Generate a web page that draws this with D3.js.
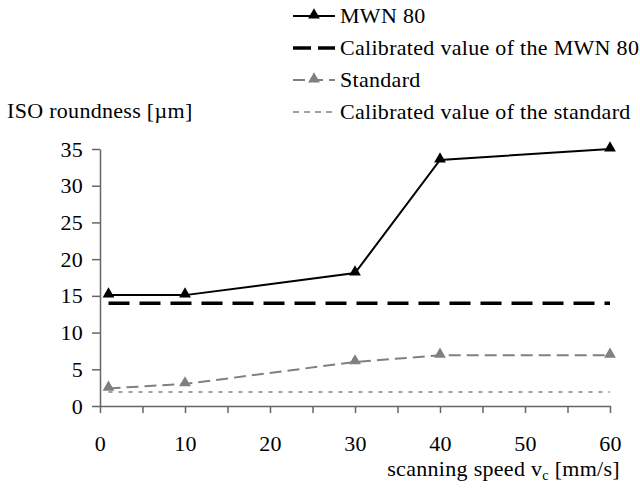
<!DOCTYPE html>
<html>
<head>
    <meta charset="UTF-8">
    <script src="https://cdn.jsdelivr.net/npm/d3@7"></script>
    <style>
        body { margin: 0; background: #fff; }
        .axis path, .axis line { stroke: #666; stroke-width: 1.5px; }
    </style>
</head>
<body>
<svg width="640" height="497"></svg>
<script>
    // values
    var speeds = [1, 10, 30, 40, 60];
    var mwn80 = [15.1, 15.1, 18.1, 33.5, 35.0];
    var standard = [2.4, 3.0, 6.0, 6.9, 6.9];
    var calMwn80 = 14.0;
    var calStandard = 1.9;
    var xTicks = [0, 10, 20, 30, 40, 50, 60];
    var xMinor = [5, 15, 25, 35, 45, 55];
    var yTicks = [0, 5, 10, 15, 20, 25, 30, 35];

    var FONT = "'Liberation Serif', 'Times New Roman', serif";
    var FS = "22px";

    var svg = d3.select("svg");

    // the original is a bit wider than plain Times, a little spacing makes up for it
    function serif(sel) {
        return sel.style("font-family", FONT).style("font-size", FS).style("letter-spacing", "0.3px");
    }

    var x = d3.scaleLinear().domain([0, 60]).range([100, 610]);
    var y = d3.scaleLinear().domain([0, 35]).range([406, 149]);

    // axes
    svg.append("g")
        .attr("class", "axis")
        .attr("transform", "translate(0,406)")
        .call(d3.axisBottom(x).tickValues(xTicks.concat(xMinor)).tickSize(7).tickSizeOuter(0)
            .tickFormat(function(d) { return xTicks.indexOf(d) >= 0 ? d : ""; }))
        .call(function(g) {
            g.attr("font-family", null).attr("font-size", null);
            serif(g.selectAll("text").attr("y", 37).attr("dy", "0.35em").attr("fill", "#000"));
        });

    svg.append("g")
        .attr("class", "axis")
        .attr("transform", "translate(100,0)")
        .call(d3.axisLeft(y).tickValues(yTicks).tickSize(8).tickSizeOuter(0))
        .call(function(g) {
            g.attr("font-family", null).attr("font-size", null);
            serif(g.selectAll("text").attr("x", -17).attr("fill", "#000"));
        });

    var line = d3.line()
        .x(function(d) { return x(d[0]); })
        .y(function(d) { return y(d[1]); });

    var tri = d3.symbol().type(d3.symbolTriangle).size(60);

    // calibrated values
    svg.append("path")
        .attr("d", line([[speeds[0], calMwn80], [60, calMwn80]]))
        .attr("fill", "none").attr("stroke", "#000")
        .attr("stroke-width", 3.5).attr("stroke-dasharray", "21,10");

    svg.append("path")
        .attr("d", line([[speeds[0], calStandard], [60, calStandard]]))
        .attr("fill", "none").attr("stroke", "#808080")
        .attr("stroke-width", 1.5).attr("stroke-dasharray", "4,6");

    // series
    var series = [
        { values: mwn80, color: "#000", dash: null, width: 2 },
        { values: standard, color: "#808080", dash: "12,6", width: 2 }
    ];

    series.forEach(function(s) {
        var pts = speeds.map(function(v, i) { return [v, s.values[i]]; });
        svg.append("path")
            .attr("d", line(pts))
            .attr("fill", "none")
            .attr("stroke", s.color)
            .attr("stroke-width", s.width)
            .attr("stroke-dasharray", s.dash);
        svg.append("g").selectAll("path")
            .data(pts)
            .enter().append("path")
            .attr("d", tri)
            .attr("fill", s.color)
            .attr("transform", function(d) { return "translate(" + x(d[0]) + "," + (y(d[1]) - 1) + ")"; });
    });

    // legend
    var legend = [
        { name: "MWN 80", color: "#000", dash: null, width: 2, marker: true },
        { name: "Calibrated value of the MWN 80", color: "#000", dash: "18,7", width: 3.5, marker: false },
        { name: "Standard", color: "#808080", dash: "12,6", width: 2, marker: true },
        { name: "Calibrated value of the standard", color: "#808080", dash: "6,5", width: 1.5, marker: false }
    ];

    var lg = svg.append("g")
        .selectAll("g")
        .data(legend)
        .enter().append("g")
        .attr("transform", function(d, i) { return "translate(293," + (16 + i * 32) + ")"; });

    lg.append("line")
        .attr("x1", 0).attr("x2", 42)
        .attr("stroke", function(d) { return d.color; })
        .attr("stroke-width", function(d) { return d.width; })
        .attr("stroke-dasharray", function(d) { return d.dash; });

    lg.filter(function(d) { return d.marker; })
        .append("path")
        .attr("d", tri)
        .attr("fill", function(d) { return d.color; })
        .attr("transform", "translate(21,-1)");

    serif(lg.append("text")
        .attr("x", 47).attr("dy", "0.33em")
        .text(function(d) { return d.name; }));

    // axis titles
    serif(svg.append("text")
        .attr("x", 7).attr("y", 118)
        .text("ISO roundness [\u00b5m]"));

    var xt = serif(svg.append("text")
        .attr("x", 620).attr("y", 476)
        .attr("text-anchor", "end"));
    xt.append("tspan").text("scanning speed v");
    xt.append("tspan").attr("dy", 4).style("font-size", "14px").text("c");
    xt.append("tspan").attr("dy", -4).text(" [mm/s]");
</script>
</body>
</html>
